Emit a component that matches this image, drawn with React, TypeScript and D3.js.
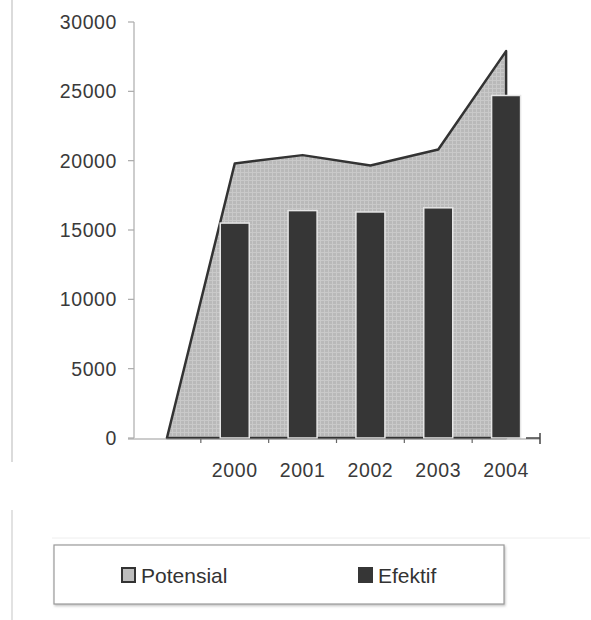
import React from "react";
import * as d3 from "d3";

const categories = ["", "2000", "2001", "2002", "2003", "2004"];
const potensial = [0, 19800, 20400, 19650, 20800, 27900];
const efektif: (number | null)[] = [null, 15500, 16400, 16300, 16600, 24700];
const yTicks = [0, 5000, 10000, 15000, 20000, 25000, 30000];
const seriesNames = ["Potensial", "Efektif"];

const W = 591;
const H = 620;
const FONT = "'Liberation Sans', Arial, sans-serif";

export default function App() {
  const x = d3.scaleBand<string>().domain(categories).range([133, 540]).padding(0);
  const y = d3.scaleLinear().domain([0, 30000]).range([438, 22]);
  const cx = (c: string) => (x(c) as number) + x.bandwidth() / 2;

  const areaPts: [number, number][] = categories.map((c, i) => [cx(c), y(potensial[i])]);
  const last = categories[categories.length - 1];
  const first = categories[0];
  const poly: [number, number][] = [
    ...areaPts,
    [cx(last), y(0)],
    [cx(first), y(0)],
  ];
  const polyPath = d3.line()(poly) + "Z";

  const barW = 29;
  const boundaries = categories.map((c) => (x(c) as number) + x.bandwidth()).slice(0, -1);

  return (
    <svg
      width={W}
      height={H}
      style={{ position: "absolute", left: 0, top: 0, background: "#fff" }}
      fontFamily={FONT}
    >
      <defs>
        <pattern id="tex" width="4" height="4" patternUnits="userSpaceOnUse">
          <rect width="4" height="4" fill="#b9b9b9" />
          <path d="M0 0.5H4M0.5 0V4" stroke="#c9c9c9" strokeWidth="1" />
        </pattern>
        <filter id="sh" x="-5%" y="-5%" width="110%" height="130%">
          <feDropShadow dx="1" dy="1.5" stdDeviation="0.8" floodColor="#999" floodOpacity="0.6" />
        </filter>
      </defs>

      {/* scan edge lines */}
      <line x1={12} x2={12} y1={0} y2={462} stroke="#cfcfcf" strokeWidth={1.5} />
      <line x1={12} x2={12} y1={510} y2={620} stroke="#d8d8d8" strokeWidth={1.5} />
      <line x1={52} x2={590} y1={538} y2={538} stroke="#eeeeee" strokeWidth={1} />

      {/* y axis */}
      <line x1={134} x2={134} y1={y(30000)} y2={y(0)} stroke="#bdbdbd" strokeWidth={1.5} />
      {yTicks.map((t) => (
        <g key={t}>
          <line x1={128} x2={134} y1={y(t)} y2={y(t)} stroke="#aaaaaa" strokeWidth={1.2} />
          <text
            x={117}
            y={y(t)}
            dy="0.36em"
            textAnchor="end"
            fontSize={19.5}
            letterSpacing={0.6}
            fill="#3a3a3a"
          >
            {t}
          </text>
        </g>
      ))}

      {/* area */}
      <path d={polyPath} fill="url(#tex)" stroke="#333" strokeWidth={2.5} strokeLinejoin="round" />

      {/* bars */}
      {categories.map((c, i) => {
        const v = efektif[i];
        if (v == null) return null;
        return (
          <rect
            key={c}
            x={cx(c) - barW / 2}
            y={y(v)}
            width={barW}
            height={y(0) - y(v)}
            fill="#363636"
            stroke="#e6e6e6"
            strokeWidth={1.5}
          />
        );
      })}

      {/* x axis */}
      <line x1={128} x2={540} y1={y(0) + 1} y2={y(0) + 1} stroke="#9a9a9a" strokeWidth={1.2} />
      <line x1={526} x2={540} y1={y(0)} y2={y(0)} stroke="#444" strokeWidth={1.5} />
      <line x1={540} x2={540} y1={y(0) - 5} y2={y(0) + 6} stroke="#444" strokeWidth={1.5} />
      {boundaries.map((b, i) => (
        <line key={i} x1={b} x2={b} y1={y(0) + 1} y2={y(0) + 5} stroke="#666" strokeWidth={1.2} />
      ))}
      {categories.map((c) =>
        c ? (
          <text key={c} x={cx(c)} y={477} textAnchor="middle" fontSize={19.5} letterSpacing={0.6} fill="#3a3a3a">
            {c}
          </text>
        ) : null
      )}

      {/* legend */}
      <rect x={54} y={545} width={450} height={59} fill="#fff" stroke="#9a9a9a" strokeWidth={1.2} filter="url(#sh)" />
      <rect x={122} y={568} width={13} height={14} fill="#bdbdbd" stroke="#333" strokeWidth={2} />
      <text x={141} y={583} fontSize={21} fill="#333">
        {seriesNames[0]}
      </text>
      <rect x={358} y={567} width={15} height={16} fill="#363636" />
      <text x={378} y={583} fontSize={21} fill="#333">
        {seriesNames[1]}
      </text>
    </svg>
  );
}
